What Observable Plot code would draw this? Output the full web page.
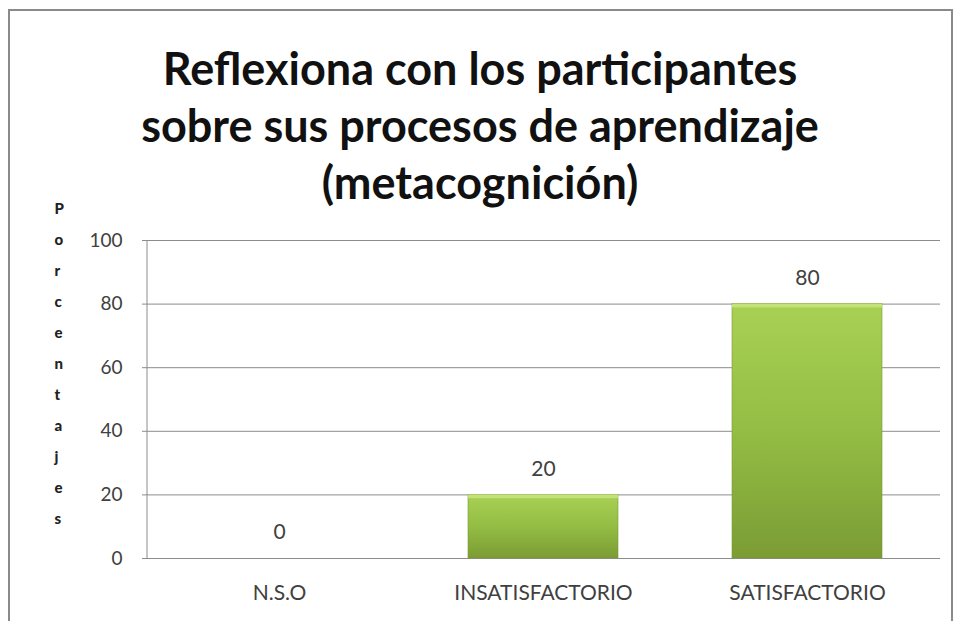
<!DOCTYPE html>
<html>
<head>
<meta charset="utf-8">
<script src="https://cdn.jsdelivr.net/npm/d3@7"></script>
<script src="https://cdn.jsdelivr.net/npm/@observablehq/plot@0.6"></script>
<style>
  body { margin: 0; background: #fff; }
  #wrap { position: relative; width: 960px; height: 621px; overflow: hidden; background: #fff; }
  #frame { position: absolute; left: 8px; top: 9px; width: 945px; height: 640px; border: 2px solid #8a8a8a; box-sizing: border-box; }
  #title { position: absolute; left: 0; top: 40px; width: 960px; text-align: center;
           font-family: Lato, "Open Sans", sans-serif; font-weight: bold; font-size: 45px; line-height: 57px; color: #111; }
  #chart { position: absolute; left: 0; top: 0; }
</style>
</head>
<body>
<div id="wrap">
  <div id="frame"></div>
  <div id="chart"></div>
  <div id="title">Reflexiona con los participantes<br>sobre sus procesos de aprendizaje<br>(metacognición)</div>
</div>
<script>
const categories = ["N.S.O", "INSATISFACTORIO", "SATISFACTORIO"];
const values = [0, 20, 80];
const yTicks = [0, 20, 40, 60, 80, 100];
const yLabel = "Porcentajes";

const data = categories.map((c, i) => ({category: c, value: values[i]}));
const font = "Lato, 'Open Sans', sans-serif";

const plot = Plot.plot({
  width: 960,
  height: 621,
  marginTop: 240,
  marginBottom: 63,
  marginLeft: 147,
  marginRight: 20,
  style: {fontFamily: font, fontSize: "18px", color: "#404040", background: "transparent"},
  x: {domain: categories, paddingInner: 0.43, paddingOuter: 0.215, label: null},
  y: {domain: [0, 100], ticks: yTicks, label: null},
  marks: [
    Plot.gridY(yTicks, {stroke: "#8c8c8c", strokeOpacity: 1, strokeWidth: 1}),
    Plot.axisY({ticks: yTicks, tickSize: 5, tickPadding: 20, stroke: "#8c8c8c", fontSize: 19, fill: "#404040", label: null}),
    Plot.axisX({tickSize: 0, tickPadding: 27, fontSize: 21, fill: "#404040", label: null}),
    Plot.barY(data, {x: "category", y: "value", fill: "url(#barGrad)", stroke: "#7a9a32", strokeWidth: 0.6}),
    Plot.barY(data.filter(d => d.value > 0), {x: "category", y1: "value", y2: d => d.value - 1.2, fill: "#c8e27e", fillOpacity: 0.9}),
    Plot.text(data, {x: "category", y: "value", text: d => String(d.value), dy: -26, fontSize: 21, fill: "#404040"}),
    Plot.text([yLabel], {frameAnchor: "top-left", text: d => d.split("").join("\n"), dx: -93, dy: -49, lineHeight: 2.07, fontSize: 15, fontWeight: 900, fill: "#222", lineAnchor: "top"})
  ]
});

d3.select(plot).insert("defs", ":first-child").html(`
  <linearGradient id="barGrad" x1="0" y1="0" x2="0" y2="1">
    <stop offset="0" stop-color="#a8d154"/>
    <stop offset="0.5" stop-color="#93bd44"/>
    <stop offset="1" stop-color="#7b9c34"/>
  </linearGradient>`);
d3.select(plot).append("line").attr("x1", 147).attr("x2", 147).attr("y1", 240).attr("y2", 558).attr("stroke", "#8c8c8c");
document.getElementById("chart").appendChild(plot);
</script>
</body>
</html>
